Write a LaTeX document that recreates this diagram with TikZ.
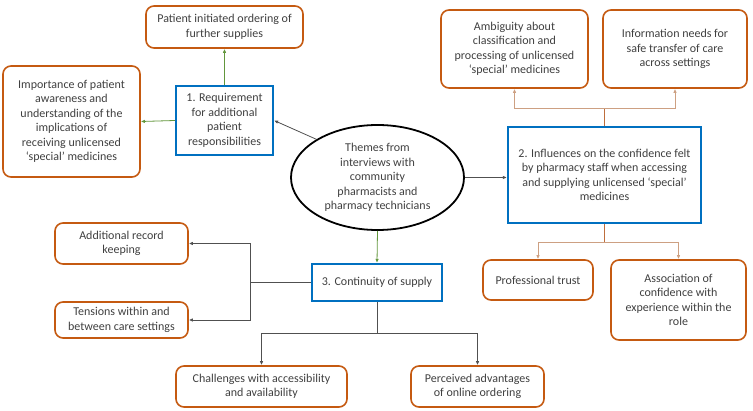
\documentclass[tikz,border=0pt]{standalone}
\usepackage{fontspec}
\setmainfont{Carlito}
\usetikzlibrary{arrows.meta,shapes.geometric}
\definecolor{orgc}{RGB}{197,90,17}
\definecolor{bluec}{RGB}{0,112,192}
\definecolor{txtc}{RGB}{64,64,64}
\definecolor{greenc}{RGB}{98,150,60}
\definecolor{tanc}{RGB}{205,160,130}
\definecolor{brownc}{RGB}{190,110,60}
\definecolor{greyc}{RGB}{80,80,80}
\tikzset{
  leaf/.style={draw=orgc, line width=1.6pt, rounded corners=8pt, fill=white, align=center, text=txtc, inner sep=2pt, font=\fontsize{12}{14.5}\selectfont},
  theme/.style={draw=bluec, line width=2.2pt, fill=white, align=center, text=txtc, inner sep=2pt, font=\fontsize{12}{14.5}\selectfont},
  hub/.style={draw=black, line width=1.8pt, ellipse, align=center, text=txtc, inner sep=0pt, font=\fontsize{12}{14.5}\selectfont},
  tip/.style={-{Latex[length=4pt,width=3.5pt]}},
  gconn/.style={tip, draw=greenc, line width=0.8pt},
  kconn/.style={tip, draw=greyc, line width=0.8pt},
  bconn/.style={tip, draw=tanc, line width=0.9pt},
}
\begin{document}
\begin{tikzpicture}[x=1pt,y=-1pt]
\useasboundingbox (0,0) rectangle (753,411);
% hub
\node[hub, minimum width=173pt, minimum height=105pt] (ell) at (377.5,177.5) {Themes from\\interviews with\\community\\pharmacists and\\pharmacy technicians};
% themes
\node[theme, minimum width=97pt, minimum height=69pt] (t1) at (224.5,120.5) {1. Requirement\\for additional\\patient\\responsibilities};
\node[theme, minimum width=193pt, minimum height=96pt] (t2) at (604.5,175) {2. Influences on the confidence felt\\by pharmacy staff when accessing\\and supplying unlicensed ‘special’\\medicines};
\node[theme, minimum width=130pt, minimum height=37pt] (t3) at (377,282.5) {3. Continuity of supply};
% leaves
\node[leaf, minimum width=157pt, minimum height=42pt] (pio) at (224.5,27) {Patient initiated ordering of\\further supplies};
\node[leaf, minimum width=137pt, minimum height=111pt] (imp) at (71.5,121.5) {Importance of patient\\awareness and\\understanding of the\\implications of\\receiving unlicensed\\‘special’ medicines};
\node[leaf, minimum width=147pt, minimum height=78pt] (amb) at (514.5,49) {Ambiguity about\\classification and\\processing of unlicensed\\‘special’ medicines};
\node[leaf, minimum width=144pt, minimum height=78pt] (inf) at (675,49) {Information needs for\\safe transfer of care\\across settings};
\node[leaf, minimum width=110pt, minimum height=40pt] (pt) at (538,280) {Professional trust};
\node[leaf, minimum width=135pt, minimum height=80pt] (assoc) at (678.5,300) {Association of\\confidence with\\experience within the\\role};
\node[leaf, minimum width=133pt, minimum height=41pt] (arec) at (121.5,243.5) {Additional record\\keeping};
\node[leaf, minimum width=133pt, minimum height=36pt] (tens) at (121.5,320) {Tensions within and\\between care settings};
\node[leaf, minimum width=171pt, minimum height=41pt] (chal) at (261.5,386.5) {Challenges with accessibility\\and availability};
\node[leaf, minimum width=133pt, minimum height=41pt] (perc) at (477.5,386.5) {Perceived advantages\\of online ordering};
% theme 1 connectors
\draw[gconn] (t1.north) -- (pio.south);
\draw[gconn] (t1.west) -- (imp.east);
\draw[kconn] (ell.148) -- (t1.east);
% hub connectors
\draw[kconn] (ell.east) -- (ell.east -| t2.west);
\draw[gconn] (ell.south) -- (t3.north);
% theme 2 connectors
\coordinate (b2t) at (604.5,108);
\coordinate (b2b) at (604.5,242);
\draw[draw=brownc, line width=0.9pt] (t2.north) -- (b2t);
\draw[bconn] (b2t) -| (amb.south);
\draw[bconn] (b2t) -| (inf.south);
\draw[draw=brownc, line width=0.9pt] (t2.south) -- (b2b);
\draw[bconn] (b2b) -| (pt.north);
\draw[bconn] (b2b) -| (assoc.north);
% theme 3 connectors
\coordinate (b3l) at (250,282.5);
\coordinate (b3b) at (377,333);
\draw[draw=greyc, line width=0.8pt] (t3.west) -- (b3l);
\draw[kconn] (b3l) |- (arec.east);
\draw[kconn] (b3l) |- (tens.east);
\draw[draw=greyc, line width=0.8pt] (t3.south) -- (b3b);
\draw[kconn] (b3b) -| (chal.north);
\draw[kconn] (b3b) -| (perc.north);
\end{tikzpicture}
\end{document}
